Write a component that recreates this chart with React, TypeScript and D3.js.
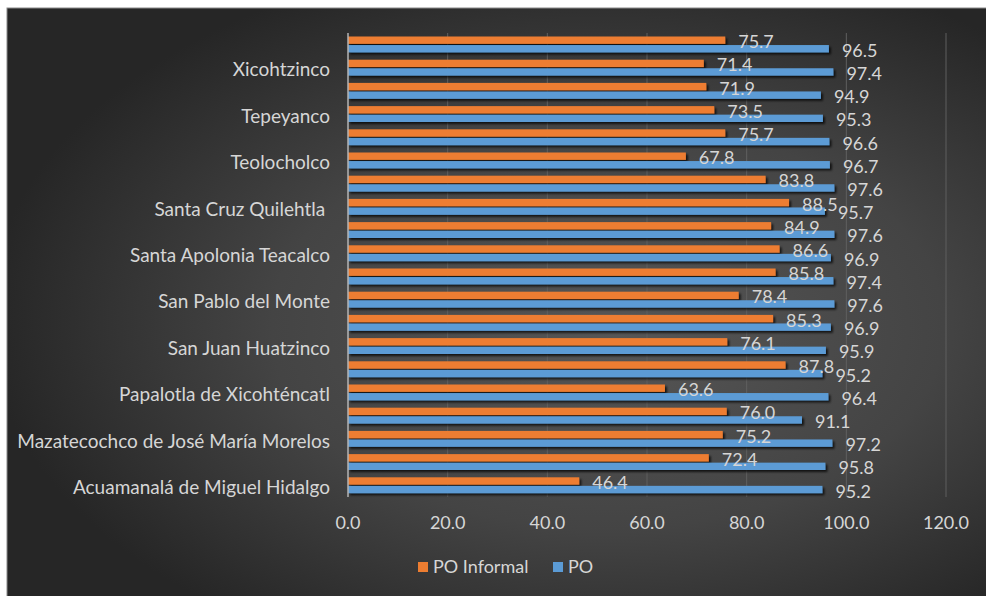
import React from "react";
import * as d3 from "d3";

// Categories, bottom to top (Excel order)
const categories: string[] = [
  "Acuamanalá de Miguel Hidalgo",
  "Ixtacuixtla de Mariano Matamoros",
  "Mazatecochco de José María Morelos",
  "Natívitas",
  "Papalotla de Xicohténcatl",
  "San Jerónimo Zacualpan",
  "San Juan Huatzinco",
  "San Lorenzo Axocomanitla",
  "San Pablo del Monte",
  "Santa Ana Nopalucan",
  "Santa Apolonia Teacalco",
  "Santa Catarina Ayometla",
  "Santa Cruz Quilehtla ",
  "Santa Isabel Xiloxoxtla",
  "Teolocholco",
  "Tepetitla de Lardizábal",
  "Tepeyanco",
  "Tetlatlahuca",
  "Xicohtzinco",
  "Zacatelco",
];

const poInformal: number[] = [
  46.4, 72.4, 75.2, 76.0, 63.6, 87.8, 76.1, 85.3, 78.4, 85.8,
  86.6, 84.9, 88.5, 83.8, 67.8, 75.7, 73.5, 71.9, 71.4, 75.7,
];

const po: number[] = [
  95.2, 95.8, 97.2, 91.1, 96.4, 95.2, 95.9, 96.9, 97.6, 97.4,
  96.9, 97.6, 95.7, 97.6, 96.7, 96.6, 95.3, 94.9, 97.4, 96.5,
];

const seriesNames: string[] = ["PO Informal", "PO"];
const seriesColors: string[] = ["#ED7D31", "#5B9BD5"];
const xTicks: number[] = [0, 20, 40, 60, 80, 100, 120];

const W = 986;
const H = 596;
const FONT = "Lato, 'Open Sans', sans-serif";
const TXT = "#d6d6d6";

export default function App() {
  const x = d3.scaleLinear().domain([0, 120]).range([348, 946]);
  const y = d3
    .scaleBand<number>()
    .domain(d3.range(categories.length).reverse())
    .range([33, 497])
    .padding(0);
  const bw = y.bandwidth();
  const inner = d3
    .scaleBand<string>()
    .domain(seriesNames)
    .range([3.5, bw - 3.8])
    .paddingInner(0.14);

  const seriesValues = [poInformal, po];
  const fmt = d3.format(".1f");

  return (
    <svg
      width={W}
      height={H}
      style={{ position: "absolute", left: 0, top: 0, display: "block" }}
      xmlns="http://www.w3.org/2000/svg"
    >
      <defs>
        <radialGradient id="bg" cx="0.6" cy="0.52" r="0.62" fx="0.62" fy="0.55">
          <stop offset="0" stopColor="#565656" />
          <stop offset="0.55" stopColor="#444444" />
          <stop offset="1" stopColor="#262626" />
        </radialGradient>
        <filter id="shadow" x="-5%" y="-50%" width="110%" height="250%">
          <feGaussianBlur in="SourceAlpha" stdDeviation="1.2" />
          <feOffset dx="1.5" dy="2" result="ob" />
          <feComponentTransfer>
            <feFuncA type="linear" slope="0.75" />
          </feComponentTransfer>
          <feMerge>
            <feMergeNode />
            <feMergeNode in="SourceGraphic" />
          </feMerge>
        </filter>
      </defs>
      <rect x={0} y={0} width={W} height={H} fill="#ffffff" />
      <rect x={7} y={8} width={W} height={H} fill="url(#bg)" stroke="#8a8a8a" strokeWidth={1} />

      {/* gridlines */}
      {xTicks.slice(1).map((t) => (
        <line
          key={"g" + t}
          x1={x(t)}
          x2={x(t)}
          y1={33}
          y2={497}
          stroke="#5f5f5f"
          strokeWidth={1}
        />
      ))}

      {/* bars */}
      {categories.map((c, i) => (
        <g key={"c" + i} transform={`translate(0,${y(i)})`}>
          {seriesValues.map((vals, s) => (
            <rect
              key={s}
              x={x(0)}
              y={inner(seriesNames[s])}
              width={x(vals[i]) - x(0)}
              height={inner.bandwidth()}
              fill={seriesColors[s]}
              filter="url(#shadow)"
            />
          ))}
        </g>
      ))}

      {/* axis line */}
      <line x1={x(0)} x2={x(0)} y1={33} y2={497} stroke="#b5b5b5" strokeWidth={1.5} />

      {/* data labels */}
      {categories.map((c, i) =>
        seriesValues.map((vals, s) => (
          <text
            key={"l" + i + "-" + s}
            x={x(vals[i]) + 13}
            y={(y(i) as number) + (inner(seriesNames[s]) as number) + inner.bandwidth() / 2 + 1}
            dominantBaseline="central"
            fontFamily={FONT}
            fontSize={18}
            fill={TXT}
          >
            {fmt(vals[i])}
          </text>
        ))
      )}

      {/* category labels (every other) */}
      {categories.map((c, i) =>
        i % 2 === 0 ? (
          <text
            key={"cat" + i}
            x={330}
            y={(y(i) as number) + bw / 2 + 1}
            textAnchor="end"
            dominantBaseline="central"
            fontFamily={FONT}
            fontSize={19}
            fill={TXT}
            style={{ whiteSpace: "pre" }}
          >
            {c}
          </text>
        ) : null
      )}

      {/* x tick labels */}
      {xTicks.map((t) => (
        <text
          key={"t" + t}
          x={x(t)}
          y={529}
          textAnchor="middle"
          fontFamily={FONT}
          fontSize={18}
          fill={TXT}
        >
          {fmt(t)}
        </text>
      ))}

      {/* legend */}
      {seriesNames.map((n, s) => {
        const lx = s === 0 ? 418 : 553;
        return (
          <g key={"lg" + s}>
            <rect x={lx} y={562} width={10} height={10} fill={seriesColors[s]} />
            <text x={lx + 15} y={573} fontFamily={FONT} fontSize={18} fill={TXT}>
              {n}
            </text>
          </g>
        );
      })}
    </svg>
  );
}
